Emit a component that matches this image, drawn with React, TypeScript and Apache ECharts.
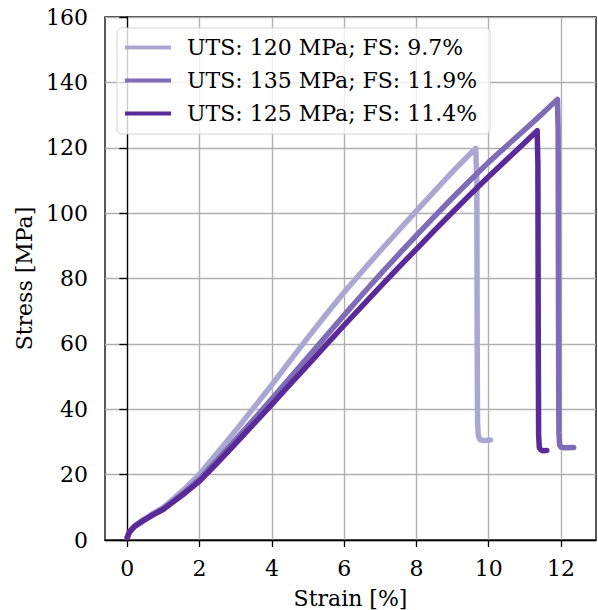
import React, { useEffect, useRef } from "react";
import * as echarts from "echarts";

const seriesNames = [
  "UTS: 120 MPa; FS: 9.7%",
  "UTS: 135 MPa; FS: 11.9%",
  "UTS: 125 MPa; FS: 11.4%",
];
const seriesColors = ["#aba7d3", "#7e6cb6", "#5a2a98"];

const xTicks = [0, 2, 4, 6, 8, 10, 12];
const yTicks = [0, 20, 40, 60, 80, 100, 120, 140, 160];

const strain1 = [0, 0.05, 0.1, 0.2, 0.4, 0.7, 1.0, 1.3, 1.6, 2.0, 2.5, 3.0, 3.5, 4.0, 4.5, 5.0, 5.5, 6.0, 6.5, 7.0, 7.5, 8.0, 8.5, 9.0, 9.5, 9.64, 9.67, 9.68, 9.69, 9.71, 9.76, 9.85, 10.05];
const stress1 = [0.8, 2.2, 3.0, 4.3, 5.9, 8.0, 10.0, 12.8, 15.8, 20.2, 26.8, 33.5, 40.5, 47.5, 54.8, 62.0, 69.0, 75.8, 82.2, 88.5, 94.6, 100.7, 106.7, 112.7, 118.3, 119.8, 110, 60, 36, 32, 30.7, 30.4, 30.6];

const strain2 = [0, 0.05, 0.1, 0.2, 0.4, 0.7, 1.0, 1.3, 1.6, 2.0, 2.5, 3.0, 3.5, 4.0, 4.5, 5.0, 5.5, 6.0, 6.5, 7.0, 7.5, 8.0, 8.5, 9.0, 9.5, 10.0, 10.5, 11.0, 11.5, 11.9, 11.92, 11.93, 11.94, 11.96, 12.0, 12.1, 12.35];
const stress2 = [0.8, 2.2, 3.0, 4.2, 5.7, 7.8, 9.6, 12.2, 14.8, 18.6, 24.6, 30.7, 36.9, 43.2, 49.6, 56.0, 62.4, 68.8, 75.1, 81.3, 87.3, 93.2, 99.0, 104.7, 110.2, 115.6, 120.6, 125.6, 130.6, 134.8, 125, 70, 33, 29.2, 28.4, 28.2, 28.3];

const strain3 = [0, 0.05, 0.1, 0.2, 0.4, 0.7, 1.0, 1.3, 1.6, 2.0, 2.5, 3.0, 3.5, 4.0, 4.5, 5.0, 5.5, 6.0, 6.5, 7.0, 7.5, 8.0, 8.5, 9.0, 9.5, 10.0, 10.5, 11.0, 11.34, 11.36, 11.37, 11.38, 11.4, 11.45, 11.5, 11.61];
const stress3 = [0.8, 2.2, 3.0, 4.1, 5.6, 7.6, 9.4, 11.9, 14.4, 18.0, 23.7, 29.6, 35.5, 41.5, 47.6, 53.6, 59.7, 65.7, 71.6, 77.5, 83.3, 89.0, 94.7, 100.3, 105.8, 111.2, 116.4, 121.6, 125.2, 115, 60, 32, 28.2, 27.5, 27.3, 27.4];

const strains = [strain1, strain2, strain3];
const stresses = [stress1, stress2, stress3];

const FONT = "DejaVu Serif";

export default function App() {
  const ref = useRef<HTMLDivElement>(null);
  useEffect(() => {
    if (!ref.current) return;
    const chart = echarts.init(ref.current, null, { renderer: "svg" });
    const xMaxData = 12.35;
    const xMin = -0.05 * xMaxData;
    const xMax = xMaxData * 1.05;
    chart.setOption({
      animation: false,
      grid: {
        left: 105,
        right: 2,
        top: 17,
        bottom: 70,
        outerBoundsMode: "none",
        containLabel: false,
        show: true,
        borderColor: "#000",
        borderWidth: 1.3,
        backgroundColor: "transparent",
      },
      legend: {
        show: true,
        orient: "vertical",
        left: 117,
        top: 28,
        selectedMode: false,
        icon: "rect",
        itemWidth: 46,
        itemHeight: 4,
        itemGap: 8,
        padding: [7, 13, 8, 8],
        backgroundColor: "rgba(255,255,255,0.8)",
        borderColor: "#d5d5d5",
        borderWidth: 1,
        borderRadius: 5,
        textStyle: {
          fontFamily: FONT,
          fontSize: 22,
          color: "#000",
          lineHeight: 25,
          padding: [0, 0, 0, 11],
        },
        data: seriesNames,
      },
      xAxis: {
        type: "value",
        min: xMin,
        max: xMax,
        name: "Strain [%]",
        nameLocation: "middle",
        nameGap: 47,
        nameTextStyle: { fontFamily: FONT, fontSize: 22, color: "#000" },
        axisLine: { show: true, onZero: false, lineStyle: { color: "#000", width: 1.3 } },
        axisTick: { show: true, customValues: xTicks, length: 7, lineStyle: { color: "#000", width: 1.3 } },
        axisLabel: { customValues: xTicks, margin: 17, fontFamily: FONT, fontSize: 22, color: "#000" },
        splitLine: { show: true, lineStyle: { color: "#b0b0b0", width: 1.4 } },
      },
      yAxis: {
        type: "value",
        min: 0,
        max: 160,
        interval: 20,
        name: "Stress [MPa]",
        nameLocation: "middle",
        nameGap: 70,
        nameTextStyle: { fontFamily: FONT, fontSize: 22, color: "#000" },
        axisLine: { show: true, lineStyle: { color: "#000", width: 1.3 } },
        axisTick: { show: true, length: 8, lineStyle: { color: "#000", width: 1.3 } },
        axisLabel: { margin: 17, fontFamily: FONT, fontSize: 22, color: "#000",
          formatter: (v: number) => (yTicks.includes(v) ? String(v) : "") },
        splitLine: { show: true, lineStyle: { color: "#b0b0b0", width: 1.4 } },
      },
      series: seriesNames.map((name, i) => ({
        name,
        type: "line",
        symbol: "none",
        smooth: false,
        z: 2 + i,
        color: seriesColors[i],
        lineStyle: { color: seriesColors[i], width: 5.5, cap: "round", join: "round" },
        data: strains[i].map((x, k) => [x, stresses[i][k]]),
      })),
    });
    return () => chart.dispose();
  }, []);
  return <div ref={ref} style={{ width: 598, height: 610, position: "absolute", left: 0, top: 0 }} />;
}
